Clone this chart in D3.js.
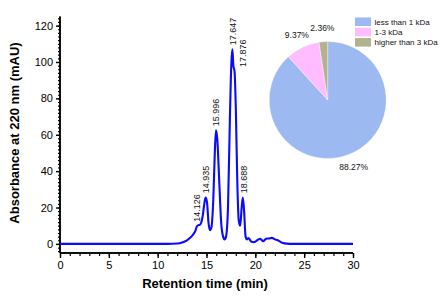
<!DOCTYPE html>
<html><head><meta charset="utf-8">
<script src="https://cdn.jsdelivr.net/npm/d3@7"></script>
<style>body{margin:0;background:#fff}svg{display:block;font-family:"Liberation Sans",Arial,sans-serif}</style>
</head><body><svg id="c" width="447" height="297"></svg>
<script>
// Chromatogram (retention time min, absorbance mAU)
const times = [0,5,10,11,12,12.5,13,13.3,13.6,13.85,14.0,14.15,14.3,14.45,14.6,14.75,14.9,15.05,15.2,15.35,15.5,15.7,15.85,15.97,16.1,16.3,16.5,16.7,16.85,17.0,17.2,17.4,17.55,17.65,17.75,17.87,18.0,18.15,18.3,18.45,18.6,18.72,18.85,19.0,19.15,19.3,19.45,19.6,19.9,20.2,20.5,20.8,21.1,21.4,21.7,22.0,22.3,22.6,23,24,30];
const absorb = [0,0,0,0,0.2,0.8,2,3.2,5,7,9.5,10.3,10.4,11.5,15,21,25.5,23,12,7.5,9,25,50,62.5,58,35,12,4,2.5,4,20,70,100,107,98,95,75,35,13,10,20,25.5,18,4,2.5,3.2,2.2,1.2,1,2,2.8,1.5,2.8,3,3.3,2.5,2,1,0.3,0,0];
const peakTimes = [14.126,14.935,15.996,17.647,17.876,18.688];
const peakHeights = [10,25.7,62.5,107,95,25.7];
const peakLabels = ["14.126","14.935","15.996","17.647","17.876","18.688"];
const xTicks = [0,5,10,15,20,25,30];
const yTicks = [0,20,40,60,80,100,120];
// Pie: molecular weight distribution
const pieCats = ["less than 1 kDa","1-3 kDa","higher than 3 kDa"];
const pieVals = [88.27,9.37,2.36];
const pieLabels = ["88.27%","9.37%","2.36%"];
const pieColors = ["#9db9f2","#ffbcff","#b3b290"];

const svg = d3.select("#c");
const x = d3.scaleLinear().domain([0,30]).range([60,353]);
const y = d3.scaleLinear().domain([-5,125]).range([253,16.5]);

// axes
const xMinor = d3.range(0,31,1);
const yMinor = d3.range(-4,125,2);
const gx = svg.append("g").attr("transform",`translate(0,${y(-5)})`);
gx.call(d3.axisBottom(x).tickValues(xMinor).tickSize(3).tickFormat(""));
gx.call(g=>g.selectAll(".tick line").attr("stroke-width",1.2));
const gx2 = svg.append("g").attr("transform",`translate(0,${y(-5)})`);
gx2.call(d3.axisBottom(x).tickValues(xTicks).tickSize(5).tickPadding(3).tickFormat(d3.format("d")));
gx2.selectAll(".tick line").attr("stroke-width",1.4);
gx2.selectAll("text").attr("font-size",11).attr("fill","#000").attr("font-family","Liberation Sans, Arial");
[gx,gx2].forEach(g=>g.select(".domain").attr("stroke-width",1.5).attr("d",`M${x(0)},0H${x(30)}`));

const gy = svg.append("g").attr("transform",`translate(${x(0)},0)`);
gy.call(d3.axisLeft(y).tickValues(yMinor).tickSize(2).tickFormat(""));
gy.selectAll(".tick line").attr("stroke-width",1.2);
const gy2 = svg.append("g").attr("transform",`translate(${x(0)},0)`);
gy2.call(d3.axisLeft(y).tickValues(yTicks).tickSize(4).tickPadding(3).tickFormat(d3.format("d")));
gy2.selectAll(".tick line").attr("stroke-width",1.4);
gy2.selectAll("text").attr("font-size",11).attr("fill","#000").attr("font-family","Liberation Sans, Arial");
[gy,gy2].forEach(g=>g.select(".domain").attr("stroke-width",1.5).attr("d",`M0,${y(-5)}V${y(125)}`));

// titles
svg.append("text").attr("x",205).attr("y",288).attr("text-anchor","middle")
  .attr("font-size",13).attr("font-weight","bold").text("Retention time (min)");
svg.append("text").attr("transform","translate(19,133) rotate(-90)").attr("text-anchor","middle")
  .attr("font-size",13).attr("font-weight","bold").text("Absorbance at 220 nm (mAU)");

// chromatogram
const pts = times.map((t,i)=>[t,absorb[i]]);
svg.append("path").datum(pts)
  .attr("fill","none").attr("stroke","#0a0aff").attr("stroke-width",2.1)
  .attr("d",d3.line().x(d=>x(d[0])).y(d=>y(d[1])).curve(d3.curveMonotoneX));

// peak labels
const labelShift = [-1,0,0,0,8,1];
peakTimes.forEach((t,i)=>{
  svg.append("text")
    .attr("transform",`translate(${x(t)+labelShift[i]},${y(peakHeights[i])-4}) rotate(-90)`)
    .attr("dy","0.35em").attr("font-size",9).attr("fill","#111").text(peakLabels[i]);
});

// pie
const cx=327.7, cy=100, r=58.5;
const pie = d3.pie().sort(null).value(d=>d)(pieVals);
const arc = d3.arc().innerRadius(0).outerRadius(r);
const lab = d3.arc().innerRadius(72).outerRadius(72);
const gp = svg.append("g").attr("transform",`translate(${cx},${cy})`);
gp.selectAll("path").data(pie).join("path").attr("d",arc)
  .attr("fill",(d,i)=>pieColors[i]).attr("stroke","#ffffff").attr("stroke-opacity",0.6).attr("stroke-width",0.6);
gp.selectAll("text").data(pie).join("text")
  .attr("transform",d=>`translate(${lab.centroid(d)})`)
  .attr("text-anchor","middle").attr("dy","0.35em").attr("font-size",8.5).attr("fill","#111")
  .text((d,i)=>pieLabels[i]);

// legend
const lg = svg.append("g");
pieCats.forEach((c,i)=>{
  lg.append("rect").attr("x",355).attr("y",17.5+i*10.3).attr("width",16).attr("height",8.5).attr("fill",pieColors[i]);
  lg.append("text").attr("x",374.5).attr("y",21.7+i*10.3).attr("dy","0.35em").attr("font-size",8).attr("fill","#111").text(c);
});
</script></body></html>
